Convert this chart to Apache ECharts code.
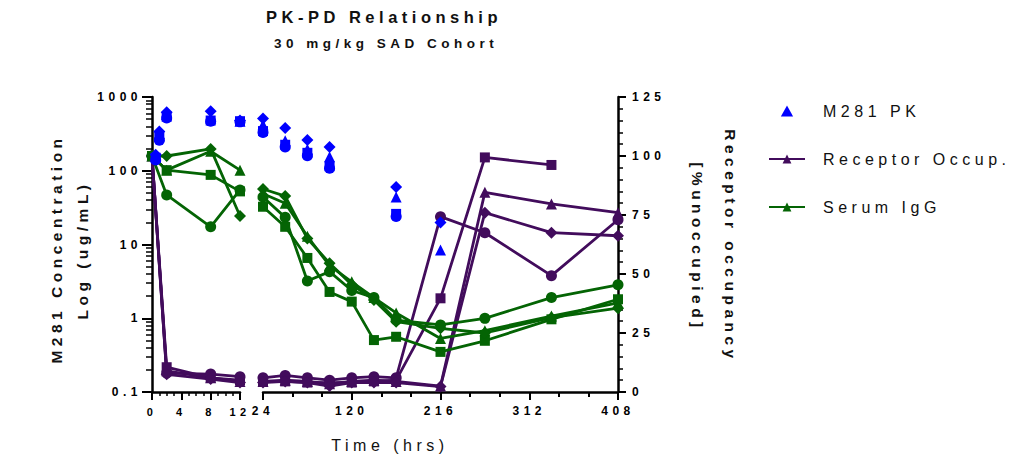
<!DOCTYPE html>
<html>
<head>
<meta charset="utf-8">
<title>PK-PD Relationship</title>
<script src="https://cdn.jsdelivr.net/npm/echarts@6/dist/echarts.min.js"></script>
<style>
  html, body { margin: 0; padding: 0; background: #fff; }
  #chart { width: 1017px; height: 458px; }
  /* Prism style spaced lettering */
  #chart text { letter-spacing: 4.5px; }
</style>
</head>
<body>
<div id="chart"></div>
<script>
// time points (hrs), split over the broken x axis
const timesEarly = [0, 2, 8, 12];
const timesLate = [24, 48, 72, 96, 120, 144, 168, 216, 264, 336, 408];
const pkTimesEarly = [0.5, 1, 2, 8, 12];
const pkTimesLate = [24, 48, 72, 96, 168, 216];

// M281 PK (ug/mL), one array per subject marker
const pkTriangleEarly = [160, 320, 580, 520, 470];
const pkCircleEarly = [140, 260, 520, 470, 460];
const pkSquareEarly = [150, 290, 540, 480, 470];
const pkDiamondEarly = [165, 340, 620, 640, 480];
const pkTriangleLate = [420, 255, 195, 155, 44, 8.4];
const pkCircleLate = [330, 210, 160, 108, 24, null];
const pkSquareLate = [345, 225, 175, 115, 26, null];
const pkDiamondLate = [510, 380, 262, 210, 60, 19.8];

// Receptor occupancy (% unoccupied)
const roTriangleEarly = [100, 9, 6, 4.5];
const roCircleEarly = [100, 8, 7.6, 6.5];
const roSquareEarly = [100, 10.5, 6, 5];
const roDiamondEarly = [100, 7.5, 5.5, 4];
const roTriangleLate = [4.5, 5, 4.5, 3.5, 4.5, 5, 4.5, 2.5, 84.6, 79.7, 76];
const roCircleLate = [6, 7, 6, 5, 6, 6.5, 6, 74.3, 67.5, 49.3, 73];
const roSquareLate = [4.5, 4.5, 4, 4, 4, 4.5, 5, 39.7, 99.4, 96.2, null];
const roDiamondLate = [4, 4.5, 4, 2.5, 4, 4, 4, 2.3, 76, 67.5, 66.2];

// Serum IgG (% of baseline)
const igTriangleEarly = [100, 94, 102, 94];
const igCircleEarly = [100, 83.5, 70, 85.6];
const igSquareEarly = [100, 94, 92, 85];
const igDiamondEarly = [100, 100, 103, 74.6];
const igTriangleLate = [84, 80, 66, 53.5, 46.7, 40, 33.5, 22.7, 26, 32.2, 37.8];
const igCircleLate = [82.6, 74, 47, 51, 43, 40, 30.5, 28.4, 31.2, 40, 45.4];
const igSquareLate = [78.5, 70, 56.8, 42.4, 38.3, 22, 23.4, 17, 21.7, 30.8, 39.3];
const igDiamondLate = [86, 83, 65, 54.6, 45.5, 39, 29.8, 27, 25, 31.5, 35.5];

// axis ticks
const earlyTicks = [0, 4, 8, 12];

const blue = '#0000FF';
const purple = '#420C5C';
const green = '#046404';
const font = 'Liberation Sans';
const symSize = { triangle: 11, circle: 11, rect: 10, diamond: 12 };

function pairs(ts, vs) {
    return ts.map((t, i) => [t, vs[i]]).filter(p => p[1] != null);
}

function lineSeries(name, color, symbol, ts, vs, xi, yi) {
    return {
        name: name, type: 'line', xAxisIndex: xi, yAxisIndex: yi,
        data: pairs(ts, vs),
        symbol: symbol, symbolSize: symSize[symbol], showSymbol: true,
        lineStyle: { color: color, width: 2.8 },
        itemStyle: { color: color },
        z: 2
    };
}

function pkSeries(symbol, ts, vs, xi, yi) {
    return {
        name: 'M281 PK', type: 'scatter', xAxisIndex: xi, yAxisIndex: yi,
        data: pairs(ts, vs),
        symbol: symbol, symbolSize: symSize[symbol],
        itemStyle: { color: blue, opacity: 1 },
        z: 3
    };
}

// minor log ticks drawn on a helper value axis (log10 space)
const minorLog = [];
[-1, 0, 1, 2].forEach(d => { for (let m = 2; m <= 9; m++) minorLog.push(d + Math.log10(m)); });

const chart = echarts.init(document.getElementById('chart'), null, { renderer: 'svg' });

const axisLine = { show: true, lineStyle: { color: '#000', width: 2.5 } };
const labelStyle = { color: '#000', fontFamily: font, fontWeight: 'bold', fontSize: 12 };

function label(text, x, y, size, weight, rotation) {
    return {
        type: 'text', x: x, y: y, rotation: rotation || 0,
        style: {
            text: text, font: weight + ' ' + size + 'px "Liberation Sans"', fill: '#111',
            align: 'center', verticalAlign: 'middle', textAlign: 'center', textVerticalAlign: 'middle'
        }
    };
}

const option = {
    animation: false,
    grid: [
        { left: 152, top: 97, width: 88, height: 295, containLabel: false, outerBoundsMode: 'none' },
        { left: 263, top: 97, width: 355, height: 295, containLabel: false, outerBoundsMode: 'none' }
    ],
    xAxis: [
        {
            type: 'value', gridIndex: 0, min: 0, max: 12, interval: 4,
            axisLine: axisLine,
            axisTick: { length: 8, lineStyle: { width: 2, color: '#000' } },
            minorTick: { show: true, splitNumber: 4, length: 4, lineStyle: { width: 1.5, color: '#000' } },
            axisLabel: Object.assign({}, labelStyle, { fontSize: 11, margin: 14, customValues: earlyTicks }),
            splitLine: { show: false }
        },
        {
            type: 'value', gridIndex: 1, min: 24, max: 408, interval: 96,
            axisLine: axisLine,
            axisTick: { length: 8, lineStyle: { width: 2, color: '#000' } },
            minorTick: { show: true, splitNumber: 3, length: 5, lineStyle: { width: 2, color: '#000' } },
            axisLabel: Object.assign({}, labelStyle, { margin: 13 }),
            splitLine: { show: false }
        }
    ],
    yAxis: [
        {
            type: 'log', gridIndex: 0, min: 0.1, max: 1000, logBase: 10, position: 'left',
            axisLine: axisLine,
            axisTick: { length: 10, lineStyle: { width: 2, color: '#000' } },
            axisLabel: Object.assign({}, labelStyle, {
                margin: 10,
                formatter: v => String(+(+v).toPrecision(4))
            }),
            splitLine: { show: false }
        },
        {
            type: 'value', gridIndex: 0, min: 0, max: 125, position: 'right', show: false
        },
        {
            type: 'value', gridIndex: 0, min: -1, max: 3, position: 'left',
            axisLine: { show: false },
            axisTick: { show: true, length: 6, customValues: minorLog, lineStyle: { width: 1.5, color: '#000' } },
            axisLabel: { show: false },
            splitLine: { show: false }
        },
        {
            type: 'log', gridIndex: 1, min: 0.1, max: 1000, logBase: 10, position: 'left', show: false
        },
        {
            type: 'value', gridIndex: 1, min: 0, max: 125, interval: 25, position: 'right',
            axisLine: axisLine,
            axisTick: { length: 8, lineStyle: { width: 2, color: '#000' } },
            minorTick: { show: true, splitNumber: 5, length: 5, lineStyle: { width: 1.5, color: '#000' } },
            axisLabel: Object.assign({}, labelStyle, { margin: 14 }),
            splitLine: { show: false }
        }
    ],
    legend: {
        orient: 'vertical', left: 768, top: 103, padding: 0,
        itemWidth: 36, itemHeight: 11, itemGap: 32,
        data: [
            { name: 'M281 PK', icon: 'path://M5,0L10,9L0,9Z' },
            'Receptor Occup.',
            'Serum IgG'
        ],
        formatter: name => '{n|' + name + '}',
        textStyle: {
            color: '#111', fontFamily: font, fontSize: 16,
            rich: { n: { color: '#111', fontFamily: font, fontSize: 16, padding: [0, 0, 0, 13] } }
        }
    },
    graphic: [
        label('PK-PD Relationship', 384, 17, 16.5, 'bold'),
        label('30 mg/kg SAD Cohort', 386, 43, 13.5, 'bold'),
        label('Time (hrs)', 390, 445, 16, 'normal'),
        label('M281 Concentration', 56, 249, 15.5, 'bold', Math.PI / 2),
        label('Log (ug/mL)', 82, 250, 15.5, 'bold', Math.PI / 2),
        label('Receptor occupancy', 730, 246, 15.5, 'bold', -Math.PI / 2),
        label('[%unoccupied]', 697, 247, 15.5, 'bold', -Math.PI / 2)
    ],
    series: [
        // receptor occupancy, right axis
        lineSeries('Receptor Occup.', purple, 'triangle', timesEarly, roTriangleEarly, 0, 1),
        lineSeries('Receptor Occup.', purple, 'circle', timesEarly, roCircleEarly, 0, 1),
        lineSeries('Receptor Occup.', purple, 'rect', timesEarly, roSquareEarly, 0, 1),
        lineSeries('Receptor Occup.', purple, 'diamond', timesEarly, roDiamondEarly, 0, 1),
        lineSeries('Receptor Occup.', purple, 'triangle', timesLate, roTriangleLate, 1, 4),
        lineSeries('Receptor Occup.', purple, 'circle', timesLate, roCircleLate, 1, 4),
        lineSeries('Receptor Occup.', purple, 'rect', timesLate, roSquareLate, 1, 4),
        lineSeries('Receptor Occup.', purple, 'diamond', timesLate, roDiamondLate, 1, 4),
        // serum IgG, right axis
        lineSeries('Serum IgG', green, 'triangle', timesEarly, igTriangleEarly, 0, 1),
        lineSeries('Serum IgG', green, 'circle', timesEarly, igCircleEarly, 0, 1),
        lineSeries('Serum IgG', green, 'rect', timesEarly, igSquareEarly, 0, 1),
        lineSeries('Serum IgG', green, 'diamond', timesEarly, igDiamondEarly, 0, 1),
        lineSeries('Serum IgG', green, 'triangle', timesLate, igTriangleLate, 1, 4),
        lineSeries('Serum IgG', green, 'circle', timesLate, igCircleLate, 1, 4),
        lineSeries('Serum IgG', green, 'rect', timesLate, igSquareLate, 1, 4),
        lineSeries('Serum IgG', green, 'diamond', timesLate, igDiamondLate, 1, 4),
        // M281 PK, left log axis
        pkSeries('triangle', pkTimesEarly, pkTriangleEarly, 0, 0),
        pkSeries('circle', pkTimesEarly, pkCircleEarly, 0, 0),
        pkSeries('rect', pkTimesEarly, pkSquareEarly, 0, 0),
        pkSeries('diamond', pkTimesEarly, pkDiamondEarly, 0, 0),
        pkSeries('triangle', pkTimesLate, pkTriangleLate, 1, 3),
        pkSeries('circle', pkTimesLate, pkCircleLate, 1, 3),
        pkSeries('rect', pkTimesLate, pkSquareLate, 1, 3),
        pkSeries('diamond', pkTimesLate, pkDiamondLate, 1, 3)
    ]
};

chart.setOption(option);
</script>
</body>
</html>
